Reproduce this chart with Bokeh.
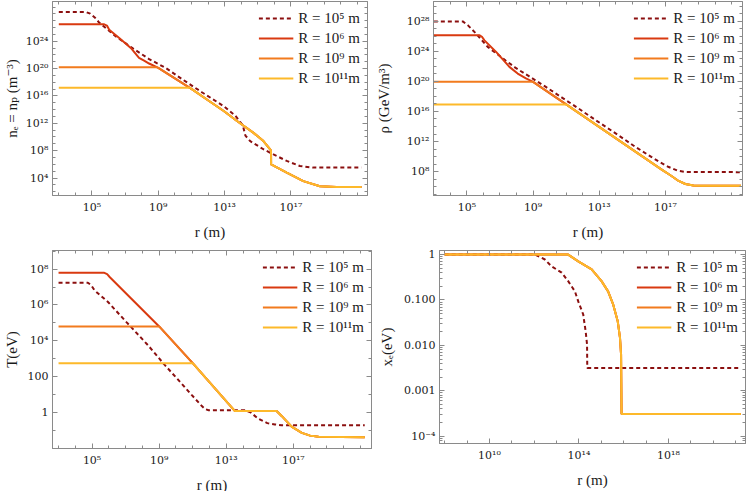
from bokeh.plotting import figure
from bokeh.layouts import column, row
from bokeh.models import Range1d, FixedTicker, LogAxis, CustomJSTickFormatter
from bokeh.embed import file_html
from bokeh.resources import INLINE

# ---------------- data ----------------
legend_labels = ["R = 10⁵ m", "R = 10⁶ m", "R = 10⁹ m", "R = 10¹¹m"]
colors = ["#8b0f0f", "#d93a10", "#f27b1e", "#fdb92a"]

# panel 1: electron density n_e (m^-3) vs r (m)
ne_r_R5 = [1e3, 4.0e4, 7.9e4, 1.6e5, 2.8e5, 8.9e5, 2.8e6, 2.8e7, 2.8e8, 2.8e9, 2.8e10, 4.5e11,
           8.9e12, 4.5e13, 1.26e14, 1.8e14, 3.5e14, 2.2e15, 8.9e15, 5.6e16, 3.5e17, 2.2e18, 1.8e21]
ne_R5 = [2.0e28, 2.0e28, 1.1e28, 2.5e27, 5.0e26, 5.0e25, 5.0e24, 1.0e23, 2.5e21, 1.26e20, 2.8e18, 3.2e16,
         3.2e14, 1.26e13, 5.0e11, 1.6e10, 2.5e9, 1.6e8, 2.8e7, 3.2e6, 5.6e5, 3.3e5, 3.3e5]
ne_tail_r = [1e9, 1e11, 1.1e12, 8.9e12, 5.6e13, 5.6e14, 2.2e15, 5.6e15, 6.3e15, 6.4e15, 5.6e16,
             5.6e17, 5.6e18, 5.6e19, 1.8e21]
ne_tail = [1.26e20, 1.1e17, 2.0e15, 6.3e13, 2.2e12, 4.0e10, 2.5e9, 1.6e8, 1.0e8, 1.0e6, 6.3e4,
           3.5e3, 6.3e2, 4.9e2, 4.9e2]
ne_head_r_R6 = [1e3, 5.5e5, 8.0e5, 1.1e6, 4.4e6, 2.2e7, 6.9e7, 1.4e8, 2.8e8]
ne_head_R6 = [3.0e26, 3.0e26, 2.0e26, 5.0e25, 3.1e24, 1.07e23, 3.7e21, 1.5e21, 5.6e20]
ne_head_r_R9 = [1e3, 8.5e8]
ne_head_R9 = [1.6e20, 1.6e20]
ne_head_r_R11 = [1e3, 8.5e10]
ne_head_R11 = [1.6e17, 1.6e17]

# panel 2: mass density rho (GeV/m^3)
rho_r_R5 = [1e3, 5.6e4, 1.12e5, 3.5e5, 1.8e6, 2.2e7, 8.9e7, 5.6e8, 5.6e9, 5.6e10, 5.6e11, 5.6e12,
            1.4e14, 1.4e15, 1.4e16, 5.0e16, 1.6e17, 5.6e17, 1.6e18, 3.7e21]
rho_R5 = [1.0e28, 1.0e28, 3.2e27, 2.5e26, 4.0e24, 6.3e22, 6.3e21, 5.0e20, 2.0e19, 7.1e17, 2.5e16, 7.9e14,
          7.1e12, 2.2e11, 8.9e9, 1.6e9, 4.0e8, 1.26e8, 8.9e7, 8.3e7]
rho_tail_r = [1e9, 1e11, 6.3e16, 2.0e17, 6.3e17, 1.6e18, 5.0e18, 1.6e19, 3.7e21]
rho_tail = [8.9e19, 8.7e16, 1.7e8, 3.2e7, 5.6e6, 2.2e6, 1.4e6, 1.26e6, 1.26e6]
rho_head_r_R6 = [1e3, 5.9e5, 8.1e5, 1.15e6, 5.8e6, 3.7e7, 1.17e8, 3.7e8]
rho_head_R6 = [1.4e26, 1.4e26, 9.0e25, 3.0e25, 8.5e23, 8.7e21, 1.12e21, 2.5e20]
rho_head_r_R9 = [1e3, 8.5e8]
rho_head_R9 = [8.9e19, 8.9e19]
rho_head_r_R11 = [1e3]
rho_head_R11 = [8.7e16]

# panel 3: temperature T (eV)
T_r_R5 = [1e3, 5.6e4, 8.9e4, 1.4e5, 8.9e5, 1.12e7, 2.2e8, 2.2e9, 2.2e10, 8.9e10, 3.5e11, 5.6e11,
          8.9e11, 1.26e14, 2.8e14, 7.9e14, 2.8e15, 7.9e15, 2.0e16, 1.8e21]
T_R5 = [1.74e7, 1.74e7, 1.26e7, 6.5e6, 1.45e6, 1.1e5, 5.5e3, 4.3e2, 40.0, 9.1, 2.24, 1.5,
        1.32, 1.32, 1.0, 0.45, 0.25, 0.21, 0.19, 0.19]
T_tail_r = [1e9, 1e11, 3.2e13, 1e16, 2.0e16, 7.9e16, 3.2e17, 1e18, 3.2e18, 1.8e21]
T_tail = [6.3e4, 5.6e2, 1.2, 1.2, 0.63, 0.16, 0.071, 0.05, 0.043, 0.04]
T_head_r_R6 = [1e3, 5.0e5, 7.9e5, 1.15e6]
T_head_R6 = [6.3e7, 6.3e7, 5.2e7, 3.5e7]
T_head_r_R9 = [1e3]
T_head_R9 = [6.3e4]
T_head_r_R11 = [1e3]
T_head_R11 = [5.6e2]

# panel 4: ionisation fraction x_e
xe_r_R5 = [1e8, 1.1e12, 3.0e12, 6.0e12, 1.7e13, 3.3e13, 6.6e13, 9.3e13, 1.55e14, 2.0e14, 2.3e14, 2.35e14, 1.7e21]
xe_R5 = [1.0, 1.0, 0.78, 0.55, 0.40, 0.26, 0.155, 0.093, 0.048, 0.020, 0.0105, 3.2e-3, 3.2e-3]
xe_r_big = [1e8, 3.3e13, 9.3e13, 3.7e14, 1.02e15, 2.0e15, 3.4e15, 5.4e15, 6.8e15, 7.6e15, 8.0e15, 1.7e21]
xe_big = [1.0, 1.0, 0.71, 0.47, 0.26, 0.155, 0.079, 0.034, 0.0148, 0.0063, 3.1e-4, 3.1e-4]

# ticks and tick labels
r_ticks = [1e5, 1e9, 1e13, 1e17]
r_tick_labels = ["10⁵", "10⁹", "10¹³", "10¹⁷"]
r4_ticks = [1e10, 1e14, 1e18]
r4_tick_labels = ["10¹⁰", "10¹⁴", "10¹⁸"]
ne_ticks = [1e4, 1e8, 1e12, 1e16, 1e20, 1e24]
ne_tick_labels = ["10⁴", "10⁸", "10¹²", "10¹⁶", "10²⁰", "10²⁴"]
rho_ticks = [1e8, 1e12, 1e16, 1e20, 1e24, 1e28]
rho_tick_labels = ["10⁸", "10¹²", "10¹⁶", "10²⁰", "10²⁴", "10²⁸"]
T_ticks = [1, 100, 1e4, 1e6, 1e8]
T_tick_labels = ["1", "100", "10⁴", "10⁶", "10⁸"]
xe_ticks = [1e-4, 1e-3, 1e-2, 1e-1, 1]
xe_tick_labels = ["10⁻⁴", "0.001", "0.010", "0.100", "1"]

# ---------------- styling ----------------
FONT = "'DejaVu Serif', 'Liberation Serif', serif"
FONT_LBL = "'Liberation Serif', 'DejaVu Serif', serif"
FRAME = "#8a8a8a"
TEXT = "#1a1a1a"
DASH = "4 3"

FMT_CODE = """
const lt = Math.log10(tick);
for (let i = 0; i < tvals.length; i++) {
  if (Math.abs(Math.log10(tvals[i]) - lt) < 1e-6) { return tlabels[i]; }
}
return "";
"""


def decades(a, b):
    return [10.0 ** k for k in range(a, b + 1)]


def style_axis(ax, ticker):
    ax.ticker = ticker
    ax.axis_line_color = FRAME
    ax.major_tick_line_color = FRAME
    ax.minor_tick_line_color = FRAME
    ax.major_tick_in = 5
    ax.major_tick_out = 0
    ax.minor_tick_in = 3
    ax.minor_tick_out = 0
    ax.major_label_text_font = FONT
    ax.major_label_text_font_size = "11px"
    ax.major_label_text_color = TEXT
    ax.axis_label_text_font = FONT_LBL
    ax.axis_label_text_font_size = "15px"
    ax.axis_label_text_font_style = "normal"
    ax.axis_label_text_color = TEXT


def make_panel(xr, yr, xt, xtl, xminor, yt, ytl, yminor, xlab, ylab, series,
               fw, fh, bl, br, bt, bb, ylab_standoff):
    p = figure(x_axis_type="log", y_axis_type="log",
               x_range=Range1d(*xr), y_range=Range1d(*yr),
               frame_width=fw, frame_height=fh,
               min_border_left=bl, min_border_right=br, min_border_top=bt, min_border_bottom=bb,
               toolbar_location=None, output_backend="svg")
    p.grid.visible = False
    p.outline_line_color = FRAME
    p.background_fill_color = "white"
    p.border_fill_color = "white"

    xa = p.xaxis[0]
    style_axis(xa, FixedTicker(ticks=xt, minor_ticks=xminor))
    xa.formatter = CustomJSTickFormatter(args=dict(tvals=xt, tlabels=xtl), code=FMT_CODE)
    xa.axis_label = xlab
    xa.major_label_standoff = 5
    xa.axis_label_standoff = 7

    ya = p.yaxis[0]
    style_axis(ya, FixedTicker(ticks=yt, minor_ticks=yminor))
    ya.formatter = CustomJSTickFormatter(args=dict(tvals=yt, tlabels=ytl), code=FMT_CODE)
    ya.axis_label = ylab
    ya.major_label_standoff = 4
    ya.axis_label_standoff = ylab_standoff

    for loc, t, mt in (("above", xt, xminor), ("right", yt, yminor)):
        ax = LogAxis()
        style_axis(ax, FixedTicker(ticks=t, minor_ticks=mt))
        ax.formatter = CustomJSTickFormatter(code="return '';")
        ax.major_label_text_font_size = "0px"
        ax.major_label_standoff = 0
        p.add_layout(ax, loc)

    for xs, ys, color, dash, label in series:
        p.line(xs, ys, line_color=color, line_width=2, line_dash=dash, legend_label=label)

    lg = p.legend[0]
    lg.location = "top_right"
    lg.border_line_alpha = 0
    lg.background_fill_alpha = 0
    lg.label_text_font = FONT_LBL
    lg.label_text_font_size = "15px"
    lg.label_text_color = TEXT
    lg.glyph_width = 35
    lg.glyph_height = 20
    lg.label_height = 20
    lg.label_standoff = 5
    lg.spacing = 0
    lg.padding = 3
    lg.margin = 4
    return p


def series_list(r5, v5, rs, vs):
    out = [(r5, v5, colors[0], DASH, legend_labels[0])]
    for i in range(3):
        out.append((rs[i], vs[i], colors[i + 1], "solid", legend_labels[i + 1]))
    return out


ne_series = series_list(
    ne_r_R5, ne_R5,
    [ne_head_r_R6 + ne_tail_r, ne_head_r_R9 + ne_tail_r, ne_head_r_R11 + ne_tail_r[1:]],
    [ne_head_R6 + ne_tail, ne_head_R9 + ne_tail, ne_head_R11 + ne_tail[1:]])
rho_series = series_list(
    rho_r_R5, rho_R5,
    [rho_head_r_R6 + rho_tail_r, rho_head_r_R9 + rho_tail_r, rho_head_r_R11 + rho_tail_r[1:]],
    [rho_head_R6 + rho_tail, rho_head_R9 + rho_tail, rho_head_R11 + rho_tail[1:]])
T_series = series_list(
    T_r_R5, T_R5,
    [T_head_r_R6 + T_tail_r, T_head_r_R9 + T_tail_r, T_head_r_R11 + T_tail_r[1:]],
    [T_head_R6 + T_tail, T_head_R9 + T_tail, T_head_R11 + T_tail[1:]])
xe_series = series_list(xe_r_R5, xe_R5, [xe_r_big] * 3, [xe_big] * 3)

xe_minor = [m * 10.0 ** k for k in range(-5, 1) for m in range(2, 10)]

p1 = make_panel((10 ** 2.62, 10 ** 21.62), (10 ** 1.44, 10 ** 29.82),
                r_ticks, r_tick_labels, decades(2, 22),
                ne_ticks, ne_tick_labels, decades(1, 30),
                "r (m)", "nₑ = nₚ (m⁻³)", ne_series,
                315, 194, 45, 5, 1, 49, 3)
p2 = make_panel((10 ** 2.98, 10 ** 21.66), (10 ** 4.81, 10 ** 30.65),
                r_ticks, r_tick_labels, decades(2, 22),
                rho_ticks, rho_tick_labels, decades(4, 31),
                "r (m)", "ρ (GeV/m³)", rho_series,
                309, 194, 61, 2, 1, 49, 12)
p3 = make_panel((10 ** 2.64, 10 ** 21.66), (10 ** -2.02, 10 ** 9.04),
                r_ticks, r_tick_labels, decades(2, 22),
                T_ticks, T_tick_labels, decades(-3, 10),
                "r (m)", "T(eV)", T_series,
                319, 198, 41, 5, 2, 37, 5)
p4 = make_panel((10 ** 7.77, 10 ** 21.44), (10 ** -4.16, 10 ** 0.09),
                r4_ticks, r4_tick_labels, decades(7, 22),
                xe_ticks, xe_tick_labels, xe_minor,
                "r (m)", "xₑ(eV)", xe_series,
                306, 193, 62, 4, 6, 38, 6)

layout = column(row(p1, p2), row(p3, p4))
open("out.html", "w").write(file_html(layout, INLINE))
